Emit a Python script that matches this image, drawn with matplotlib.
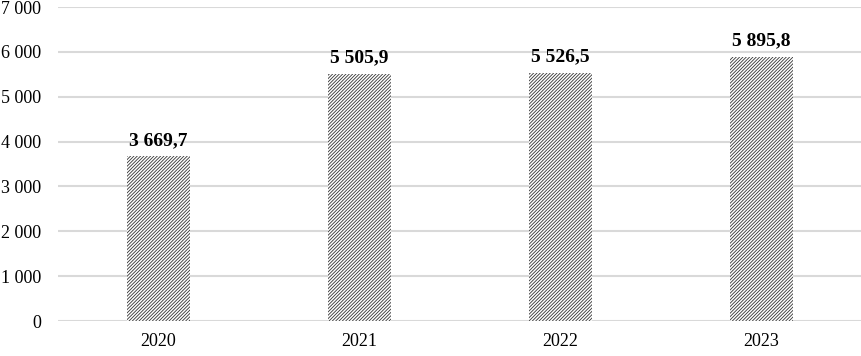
import matplotlib
matplotlib.use("Agg")
import matplotlib.pyplot as plt

years = ["2020", "2021", "2022", "2023"]
values = [3669.7, 5505.9, 5526.5, 5895.8]
labels = ["3 669,7", "5 505,9", "5 526,5", "5 895,8"]
yticks = [0, 1000, 2000, 3000, 4000, 5000, 6000, 7000]
ytick_labels = ["0", "1 000", "2 000", "3 000", "4 000", "5 000", "6 000", "7 000"]

plt.rcParams['font.family'] = ['Liberation Serif', 'DejaVu Serif']
plt.rcParams['hatch.linewidth'] = 0.6
plt.rcParams['hatch.color'] = '#333333'

fig = plt.figure(figsize=(8.62, 3.56), dpi=100)
ax = fig.add_axes([58/862, 1-321/356, 1-58/862, 314/356])

x = range(len(years))
bars = ax.bar(x, values, width=0.31, color='white', edgecolor='#333333', hatch='//////////', linewidth=0, zorder=3)
for xi, v, lab in zip(x, values, labels):
    ax.text(xi, v + 170, lab, ha='center', va='bottom', fontsize=14, fontweight='bold', color='black')

ax.set_ylim(0, 7000)
ax.set_xlim(-0.5, 3.5)
ax.set_yticks(yticks)
ax.set_yticklabels(ytick_labels, fontsize=13)
ax.set_xticks(list(x))
ax.set_xticklabels(years, fontsize=13)
ax.yaxis.grid(True, color='#d9d9d9', linewidth=1.5, zorder=0)
ax.set_axisbelow(True)
for s in ax.spines.values():
    s.set_visible(False)
ax.tick_params(axis='both', length=0)
ax.tick_params(axis='y', pad=12)
ax.tick_params(axis='x', pad=9)

fig.savefig("out.png", dpi=100)
